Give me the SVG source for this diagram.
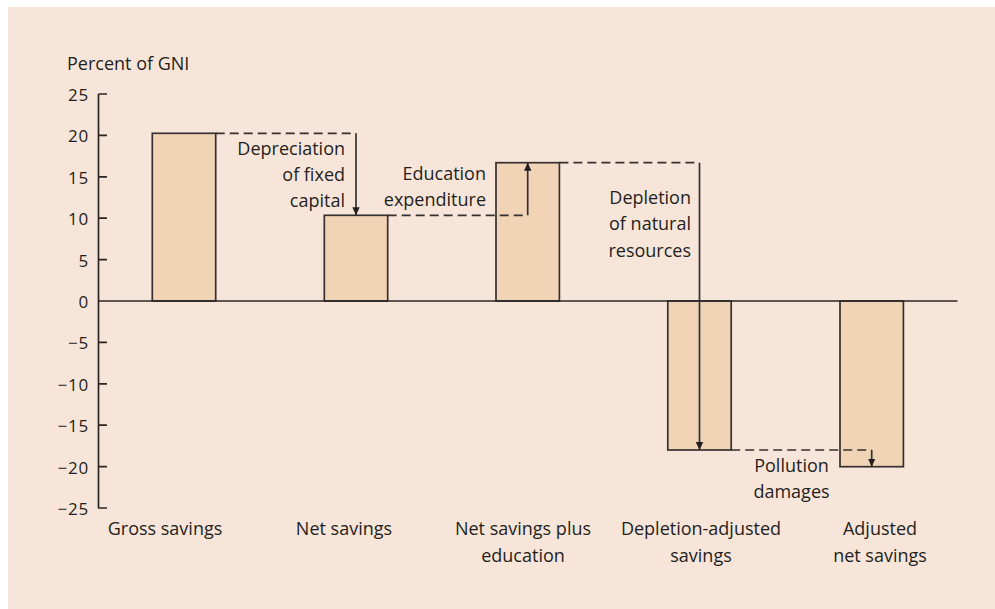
<svg xmlns="http://www.w3.org/2000/svg" width="995" height="609" viewBox="0 0 995 609">
<defs>
<style>
text{font-family:"Open Sans","Noto Sans","Liberation Sans",sans-serif;fill:#231f20;font-size:18px;font-weight:500}
.tick{font-size:17px;letter-spacing:0.8px;text-anchor:end}
.mid{text-anchor:middle}
.end{text-anchor:end}
.bar{fill:#f1d3b6;stroke:#353131;stroke-width:1.7}
.ax{stroke:#2a2626;stroke-width:1.7;fill:none}
.dash{stroke:#353131;stroke-width:1.7;fill:none;stroke-dasharray:9 5}
.solid{stroke:#353131;stroke-width:1.7;fill:none}
</style>
<marker id="ah" viewBox="0 0 8 8" refX="8" refY="4" markerWidth="8" markerHeight="8" markerUnits="userSpaceOnUse" orient="auto">
<path d="M0,0.3 L8,4 L0,7.7 z" fill="#231f20"/>
</marker>
</defs>
<rect x="0" y="0" width="995" height="609" fill="#ffffff"/>
<rect x="8" y="7" width="987" height="602" fill="#f8e5d9"/>

<g id="axis">
<text x="67" y="70">Percent of GNI</text>
<path class="ax" d="M98.5 94 V508.5 M98.5 94 H107 M98.5 135.4 H107 M98.5 176.8 H107 M98.5 218.2 H107 M98.5 259.6 H107 M98.5 342.4 H107 M98.5 383.8 H107 M98.5 425.2 H107 M98.5 466.6 H107 M98.5 508 H107"/>
<g class="ticks">
<text class="tick" x="89" y="101">25</text>
<text class="tick" x="89" y="142.4">20</text>
<text class="tick" x="89" y="183.8">15</text>
<text class="tick" x="89" y="225.2">10</text>
<text class="tick" x="89" y="266.6">5</text>
<text class="tick" x="89" y="308">0</text>
<text class="tick" x="89" y="349.4">−5</text>
<text class="tick" x="89" y="390.8">−10</text>
<text class="tick" x="89" y="432.2">−15</text>
<text class="tick" x="89" y="473.6">−20</text>
<text class="tick" x="89" y="515">−25</text>
</g>
</g>

<g id="gross-savings">
<rect class="bar" x="152.3" y="133.3" width="63.4" height="167.7"/>
<text class="mid" x="165" y="535">Gross savings</text>
</g>
<g id="net-savings">
<rect class="bar" x="324.3" y="215.3" width="63.4" height="85.7"/>
<text class="mid" x="344" y="535">Net savings</text>
</g>
<g id="net-savings-plus-education">
<rect class="bar" x="496" y="162.7" width="63.4" height="138.3"/>
<text class="mid" x="523" y="535">Net savings plus</text>
<text class="mid" x="523" y="561.5">education</text>
</g>
<g id="depletion-adjusted-savings">
<rect class="bar" x="667.8" y="301" width="63.4" height="149"/>
<text class="mid" x="701" y="535">Depletion-adjusted</text>
<text class="mid" x="701" y="561.5">savings</text>
</g>
<g id="adjusted-net-savings">
<rect class="bar" x="840" y="301" width="63.4" height="165.7"/>
<text class="mid" x="880" y="535">Adjusted</text>
<text class="mid" x="880" y="561.5">net savings</text>
</g>

<path id="zero-line" class="ax" d="M98.5 301 H957.5"/>

<g id="connectors">
<path class="dash" d="M215.7 133.3 H356"/>
<path class="solid" d="M356 133.3 V215.3" marker-end="url(#ah)"/>
<path class="dash" d="M387.7 215.3 H527.7"/>
<path class="solid" d="M527.7 215.3 V162.7" marker-end="url(#ah)"/>
<path class="dash" d="M559.4 162.7 H699.5"/>
<path class="solid" d="M699.5 162.7 V450" marker-end="url(#ah)"/>
<path class="dash" d="M731.2 450 H871.7"/>
<path class="solid" d="M871.7 450 V466.7" marker-end="url(#ah)"/>
</g>

<g id="labels">
<text class="end" x="345" y="155">Depreciation</text>
<text class="end" x="345" y="181">of fixed</text>
<text class="end" x="345" y="207">capital</text>
<text class="end" x="486" y="179.5">Education</text>
<text class="end" x="486" y="206">expenditure</text>
<text class="end" x="691" y="203.5">Depletion</text>
<text class="end" x="691" y="230">of natural</text>
<text class="end" x="691" y="256.5">resources</text>
<text class="mid" x="791.5" y="472">Pollution</text>
<text class="mid" x="791.5" y="498">damages</text>
</g>
</svg>
